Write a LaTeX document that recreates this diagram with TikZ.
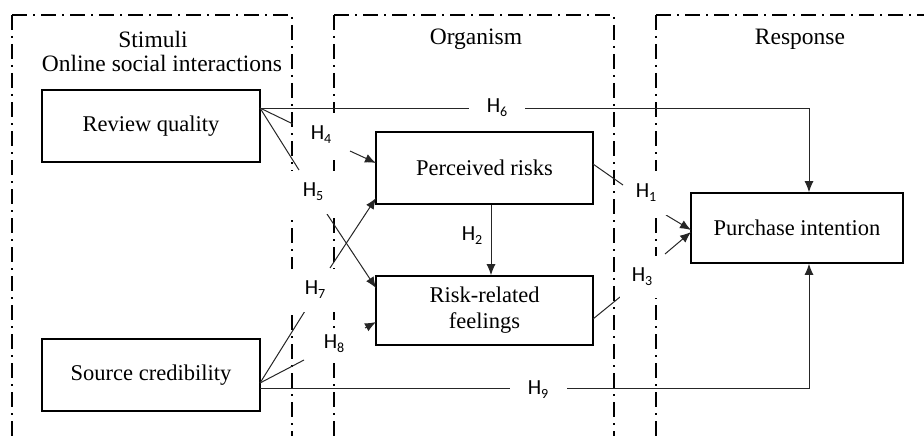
\documentclass[tikz,border=0pt]{standalone}
\usepackage{fontspec}
\setmainfont{Liberation Serif}
\newfontfamily\hfont{Carlito}
\usetikzlibrary{arrows.meta}
\newcommand{\hyp}[1]{{\hfont\fontsize{21.5}{21.5}\selectfont H\raisebox{-4pt}{\fontsize{14}{14}\selectfont #1}}}
\begin{document}
\begin{tikzpicture}[x=1pt,y=-1pt,
  box/.style={draw,line width=1.6pt,minimum width=218pt,minimum height=72pt,inner sep=0pt,align=center,font=\fontsize{22.5}{26}\selectfont},
  frame/.style={line width=1.2pt,dash pattern=on 15pt off 6pt on 2pt off 6pt},
  conn/.style={draw=black!85,line width=1pt},
  arr/.style={conn,-{Latex[length=11pt,width=9pt]}},
  hlab/.style={inner sep=0pt},
  wlab/.style={fill=white,inner sep=0pt},
  head/.style={font=\fontsize{23.5}{26}\selectfont,inner sep=0pt}]
\useasboundingbox (0,0) rectangle (924,436);
% frames
\draw[frame] (12,15) -- (292,15) -- (292,436);
\draw[frame] (12,15) -- (12,436);
\draw[frame] (334,15) -- (614,15) -- (614,436);
\draw[frame] (334,15) -- (334,436);
\draw[frame] (656,15) -- (924,15);
\draw[frame] (656,15) -- (656,436);
% headers
\node[head] (hs) at (153,39) {Stimuli};
\node[head] (ho) at (162,63) {Online social interactions};
\node[head] (horg) at (476,39) {Organism};
\node[head] (hr) at (800,39) {Response};
% boxes
\node[box] (rq) at (151,126) {Review quality};
\node[box] (sc) at (151,375) {Source credibility};
\node[box,minimum width=217pt] (pr) at (484.5,168) {Perceived risks};
\node[box,minimum width=217pt,minimum height=69pt] (rf) at (484.5,310.5) {Risk-related\\feelings};
\node[box,minimum width=212pt,minimum height=70pt] (pi) at (797,228) {Purchase intention};
% coordinates
\coordinate (rqo) at (260,108);
\coordinate (sco) at (260,383);
\coordinate (sc9) at (260,388);
\coordinate (h4a) at (293,124);
\coordinate (h4b) at (350,151);
\coordinate (h4c) at (376,163);
\coordinate (h5a) at (299,170);
\coordinate (h5b) at (327,214);
\coordinate (h5c) at (376,288);
\coordinate (h7a) at (305,311);
\coordinate (h7b) at (330,268);
\coordinate (h7c) at (376,198);
\coordinate (h8a) at (304,360);
\coordinate (h8b) at (365,328);
\coordinate (h8c) at (376,322);
\coordinate (h1s) at (593,164);
\coordinate (h1a) at (623,185);
\coordinate (h1b) at (666,215);
\coordinate (h1c) at (691,230);
\coordinate (h3s) at (593,319);
\coordinate (h3a) at (620,297);
\coordinate (h3b) at (665,254);
\coordinate (h3c) at (691,232);
% connectors
\draw[arr] (rqo) -| ([xshift=12pt]pi.north);
\draw[conn] (rqo) -- (h4a);
\draw[arr] (h4b) -- (h4c);
\draw[conn] (rqo) -- (h5a);
\draw[arr] (h5b) -- (h5c);
\draw[conn] (sco) -- (h7a);
\draw[arr] (h7b) -- (h7c);
\draw[conn] (sco) -- (h8a);
\draw[arr] (h8b) -- (h8c);
\draw[arr] ([xshift=6.5pt]pr.south) -- ([xshift=6.5pt]pr.south |- rf.north);
\draw[conn] (h1s) -- (h1a);
\draw[arr] (h1b) -- (h1c);
\draw[conn] (h3s) -- (h3a);
\draw[arr] (h3b) -- (h3c);
\draw[arr] (sc9) -| ([xshift=12pt]pi.south);
% labels (white text boxes)
\node[wlab,minimum width=56pt,minimum height=26pt] (l6) at (497,108) {\hyp{6}};
\node[wlab,minimum width=56pt,minimum height=44pt] (l4) at (321,135) {\hyp{4}};
\node[wlab,minimum width=50pt,minimum height=43pt] (l5) at (313,192) {\hyp{5}};
\node[wlab,minimum width=52pt,minimum height=43pt] (l7) at (315,290) {\hyp{7}};
\node[wlab,minimum width=58pt,minimum height=31pt] (l8) at (334,344) {\hyp{8}};
\node[hlab] (l2) at (472,236) {\hyp{2}};
\node[wlab,minimum width=43pt,minimum height=44pt] (l1) at (646,193) {\hyp{1}};
\node[wlab,minimum width=44pt,minimum height=42pt] (l3) at (642,277) {\hyp{3}};
\node[wlab,minimum width=57pt,minimum height=26pt] (l9) at (538,390) {\hyp{9}};
\end{tikzpicture}
\end{document}
